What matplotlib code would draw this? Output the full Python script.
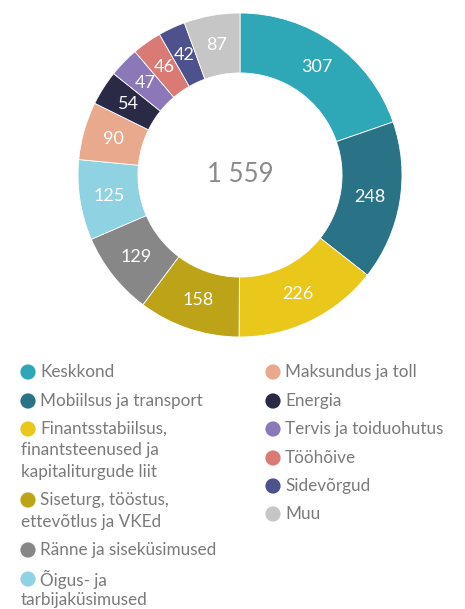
import matplotlib
matplotlib.use("Agg")
import matplotlib.pyplot as plt
import numpy as np

categories = ["Keskkond", "Mobiilsus ja transport",
              "Finantsstabiilsus,\nfinantsteenused ja\nkapitaliturgude liit",
              "Siseturg, tööstus,\nettevõtlus ja VKEd",
              "Ränne ja siseküsimused", "Õigus- ja\ntarbijaküsimused",
              "Maksundus ja toll", "Energia", "Tervis ja toiduohutus",
              "Tööhõive", "Sidevõrgud", "Muu"]
values = [307, 248, 226, 158, 129, 125, 90, 54, 47, 46, 42, 87]
colors = ["#2ea8b6", "#2a7386", "#e9c71b", "#bca317", "#878787", "#8fd2e2",
          "#e8a98d", "#2a2946", "#8b78b8", "#d97a74", "#4d518c", "#c6c6c6"]
total_label = "1 559"

W, H = 465, 609
fig = plt.figure(figsize=(W / 100, H / 100), dpi=100)
plt.rcParams['font.family'] = ['Lato', 'DejaVu Sans']
txt_color = "#7a7a7a"

# donut
cx, cy, R = 240, 175, 162
ax = fig.add_axes([(cx - R) / W, (H - cy - R) / H, 2 * R / W, 2 * R / H])
wedges, _ = ax.pie(values, colors=colors, startangle=90, counterclock=False,
                   radius=1, wedgeprops=dict(width=0.37, edgecolor="white", linewidth=0.6))
ax.set_xlim(-1, 1)
ax.set_ylim(-1, 1)
ax.set_aspect("equal")
for w, v in zip(wedges, values):
    ang = np.deg2rad((w.theta1 + w.theta2) / 2)
    r = 0.815
    ax.text(r * np.cos(ang), r * np.sin(ang), str(v), ha="center", va="center",
            color="white", fontsize=13)
ax.text(0, 0, total_label, ha="center", va="center", color="#8a8a8a", fontsize=18.5)

# legend
lax = fig.add_axes([0, 0, 1, 1])
lax.set_xlim(0, W)
lax.set_ylim(H, 0)
lax.axis("off")
rows_left = [372, 401, 429, 500, 550, 579]
rows_right = [372, 401, 429, 458, 486, 514]
positions = [(28, y) for y in rows_left] + [(273, y) for y in rows_right]
line_h = 21.5
for (x, y), lab, c in zip(positions, categories, colors):
    lax.scatter([x], [y], s=120, color=c, edgecolors="none")
    lines = lab.split("\n")
    lax.text(x + 12, y, lines[0], ha="left", va="center", color=txt_color, fontsize=12.3)
    for i, ln in enumerate(lines[1:], 1):
        lax.text(x - 7, y + i * line_h, ln, ha="left", va="center", color=txt_color, fontsize=12.3)

fig.savefig("out.png", dpi=100)
